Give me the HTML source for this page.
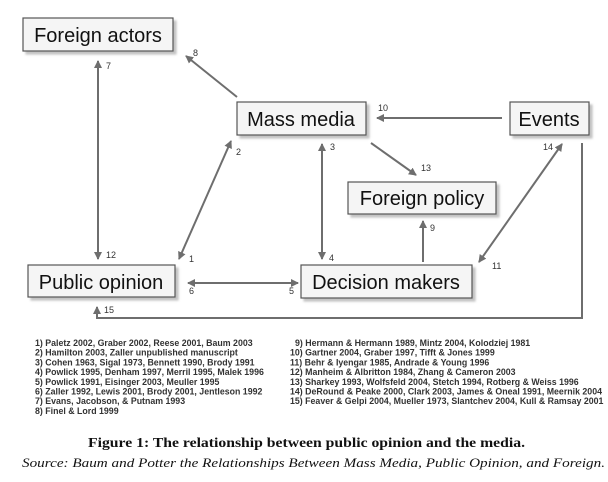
<!DOCTYPE html>
<html><head><meta charset="utf-8"><style>
html,body{margin:0;padding:0;background:#fff;width:608px;height:482px;overflow:hidden}
</style></head><body>
<svg width="608" height="482" viewBox="0 0 608 482" xmlns="http://www.w3.org/2000/svg">
<defs>
<marker id="a" markerWidth="8" markerHeight="8" refX="7" refY="4" orient="auto-start-reverse" markerUnits="userSpaceOnUse"><path d="M0,0 L8,4 L0,8 z" fill="#6e6e6e"/></marker>
<filter id="s" x="-10%" y="-10%" width="130%" height="140%"><feDropShadow dx="3" dy="3" stdDeviation="1" flood-color="#999" flood-opacity="0.6"/></filter>
</defs>
<g fill="#f5f5f5" stroke="#555" stroke-width="1.2" filter="url(#s)">
<rect x="23" y="18" width="150" height="33"/>
<rect x="237" y="102" width="129" height="33"/>
<rect x="510" y="102" width="79" height="33"/>
<rect x="348" y="182" width="148" height="32"/>
<rect x="28" y="265" width="147" height="32"/>
<rect x="301" y="265" width="171" height="33"/>
</g>
<g font-family="Liberation Sans, sans-serif" font-size="20" fill="#111" text-anchor="middle">
<text x="98" y="42">Foreign actors</text>
<text x="301" y="126">Mass media</text>
<text x="549" y="126">Events</text>
<text x="422" y="205">Foreign policy</text>
<text x="101" y="289">Public opinion</text>
<text x="386" y="289">Decision makers</text>
</g>
<g stroke="#6e6e6e" stroke-width="2" fill="none">
<line x1="98" y1="61" x2="98" y2="259" marker-start="url(#a)" marker-end="url(#a)"/>
<line x1="237" y1="97" x2="186" y2="56" marker-end="url(#a)"/>
<line x1="231" y1="141" x2="179" y2="259" marker-start="url(#a)" marker-end="url(#a)"/>
<line x1="322" y1="144" x2="322" y2="259" marker-start="url(#a)" marker-end="url(#a)"/>
<line x1="502" y1="118" x2="377" y2="118" marker-end="url(#a)"/>
<line x1="371" y1="143" x2="416" y2="175" marker-end="url(#a)"/>
<line x1="423" y1="262" x2="423" y2="221" marker-end="url(#a)"/>
<line x1="562" y1="144" x2="479" y2="262" marker-start="url(#a)" marker-end="url(#a)"/>
<line x1="188" y1="283" x2="298" y2="283" marker-start="url(#a)" marker-end="url(#a)"/>
<polyline points="582,143 582,318 97,318 97,307" marker-end="url(#a)"/>
</g>
<g font-family="Liberation Sans, sans-serif" font-size="9" fill="#333">
<text x="193" y="56">8</text>
<text x="106" y="69">7</text>
<text x="106" y="258">12</text>
<text x="236" y="155">2</text>
<text x="189" y="262">1</text>
<text x="330" y="150">3</text>
<text x="329" y="261">4</text>
<text x="378" y="111">10</text>
<text x="421" y="171">13</text>
<text x="543" y="150">14</text>
<text x="430" y="231">9</text>
<text x="492" y="269">11</text>
<text x="189" y="294">6</text>
<text x="289" y="294">5</text>
<text x="104" y="313">15</text>
</g>
<g font-family="Liberation Sans, sans-serif" font-size="8.8" font-weight="bold" fill="#333">
<text x="35" y="346">1) Paletz 2002, Graber 2002, Reese 2001, Baum 2003</text>
<text x="35" y="355.7">2) Hamilton 2003, Zaller unpublished manuscript</text>
<text x="35" y="365.4">3) Cohen 1963, Sigal 1973, Bennett 1990, Brody 1991</text>
<text x="35" y="375.1">4) Powlick 1995, Denham 1997, Merril 1995, Malek 1996</text>
<text x="35" y="384.8">5) Powlick 1991, Eisinger 2003, Meuller 1995</text>
<text x="35" y="394.5">6) Zaller 1992, Lewis 2001, Brody 2001, Jentleson 1992</text>
<text x="35" y="404.2">7) Evans, Jacobson, &amp; Putnam 1993</text>
<text x="35" y="413.9">8) Finel &amp; Lord 1999</text>
<text x="295" y="346">9) Hermann &amp; Hermann 1989, Mintz 2004, Kolodziej 1981</text>
<text x="290" y="355.7">10) Gartner 2004, Graber 1997, Tifft &amp; Jones 1999</text>
<text x="290" y="365.4">11) Behr &amp; Iyengar 1985, Andrade &amp; Young 1996</text>
<text x="290" y="375.1">12) Manheim &amp; Albritton 1984, Zhang &amp; Cameron 2003</text>
<text x="290" y="384.8">13) Sharkey 1993, Wolfsfeld 2004, Stetch 1994, Rotberg &amp; Weiss 1996</text>
<text x="290" y="394.5">14) DeRound &amp; Peake 2000, Clark 2003, James &amp; Oneal 1991, Meernik 2004</text>
<text x="290" y="404.2">15) Feaver &amp; Gelpi 2004, Mueller 1973, Slantchev 2004, Kull &amp; Ramsay 2001</text>
</g>
<text x="88" y="447" textLength="437" lengthAdjust="spacingAndGlyphs" font-family="Liberation Serif, serif" font-weight="bold" font-size="14" fill="#111">Figure 1: The relationship between public opinion and the media.</text>
<text x="22" y="467" textLength="583" lengthAdjust="spacingAndGlyphs" font-family="Liberation Serif, serif" font-style="italic" font-size="13" fill="#111">Source: Baum and Potter the Relationships Between Mass Media, Public Opinion, and Foreign.</text>
</svg>
</body></html>
